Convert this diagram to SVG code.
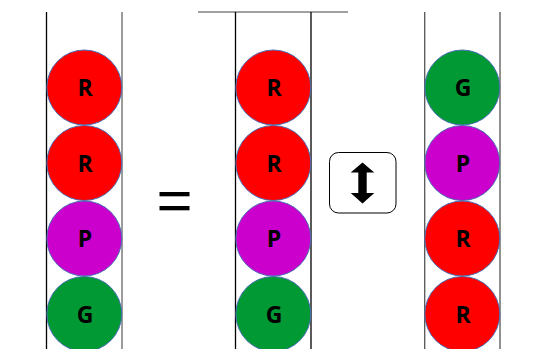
<svg xmlns="http://www.w3.org/2000/svg" width="534" height="349" viewBox="0 0 534 349">
<style>
.ball{stroke:#4a6fb5;stroke-width:1}
.r{fill:#ff0000}.p{fill:#cc00cc}.g{fill:#009933}
.lbl{font-family:"Open Sans","Liberation Sans",sans-serif;font-weight:700;font-size:23px;text-anchor:middle;fill:#000}
.wall{stroke-width:1.3;fill:none}
</style>
<rect width="534" height="349" fill="#fff"/>
<g id="tube-left">
<line class="wall" x1="46.5" y1="12" x2="46.5" y2="349" stroke="#000"/>
<line class="wall" x1="122" y1="12" x2="122" y2="349" stroke="#666"/>
</g>
<g id="tube-middle">
<line x1="198" y1="12" x2="348" y2="12" stroke="#808080" stroke-width="1.5"/>
<line class="wall" x1="235.5" y1="12" x2="235.5" y2="349" stroke="#000"/>
<line class="wall" x1="311" y1="12" x2="311" y2="349" stroke="#000"/>
</g>
<g id="tube-right">
<line class="wall" x1="424.7" y1="12" x2="424.7" y2="349" stroke="#555"/>
<line class="wall" x1="500" y1="12" x2="500" y2="349" stroke="#555"/>
</g>
<g id="L1"><circle class="ball r" cx="84.3" cy="87.5" r="37.5"/><text class="lbl" x="85" y="96">R</text></g>
<g id="L2"><circle class="ball r" cx="84.3" cy="163" r="37.5"/><text class="lbl" x="85" y="171.5">R</text></g>
<g id="L3"><circle class="ball p" cx="84.3" cy="238.5" r="37.5"/><text class="lbl" x="85" y="247">P</text></g>
<g id="L4"><circle class="ball g" cx="84.3" cy="314" r="37.5"/><text class="lbl" x="85" y="322.5">G</text></g>
<g id="M1"><circle class="ball r" cx="273.3" cy="87.5" r="37.5"/><text class="lbl" x="274" y="96">R</text></g>
<g id="M2"><circle class="ball r" cx="273.3" cy="163" r="37.5"/><text class="lbl" x="274" y="171.5">R</text></g>
<g id="M3"><circle class="ball p" cx="273.3" cy="238.5" r="37.5"/><text class="lbl" x="274" y="247">P</text></g>
<g id="M4"><circle class="ball g" cx="273.3" cy="314" r="37.5"/><text class="lbl" x="274" y="322.5">G</text></g>
<g id="R1"><circle class="ball g" cx="462.3" cy="87.5" r="37.5"/><text class="lbl" x="463" y="96">G</text></g>
<g id="R2"><circle class="ball p" cx="462.3" cy="163" r="37.5"/><text class="lbl" x="463" y="171.5">P</text></g>
<g id="R3"><circle class="ball r" cx="462.3" cy="238.5" r="37.5"/><text class="lbl" x="463" y="247">R</text></g>
<g id="R4"><circle class="ball r" cx="462.3" cy="314" r="37.5"/><text class="lbl" x="463" y="322.5">R</text></g>
<g id="equals">
<rect x="159.5" y="192" width="30" height="4.3" fill="#000"/>
<rect x="159.5" y="206" width="30" height="4.3" fill="#000"/>
</g>
<g id="swap-button">
<rect x="329.5" y="152.5" width="66.5" height="60.5" rx="9" fill="#fff" stroke="#000" stroke-width="1"/>
<polygon points="362.5,162.5 374.3,172.5 366.7,172.5 366.7,193 374.3,193 362.5,203.5 350.7,193 358.3,193 358.3,172.5 350.7,172.5" fill="#000"/>
</g>
</svg>
